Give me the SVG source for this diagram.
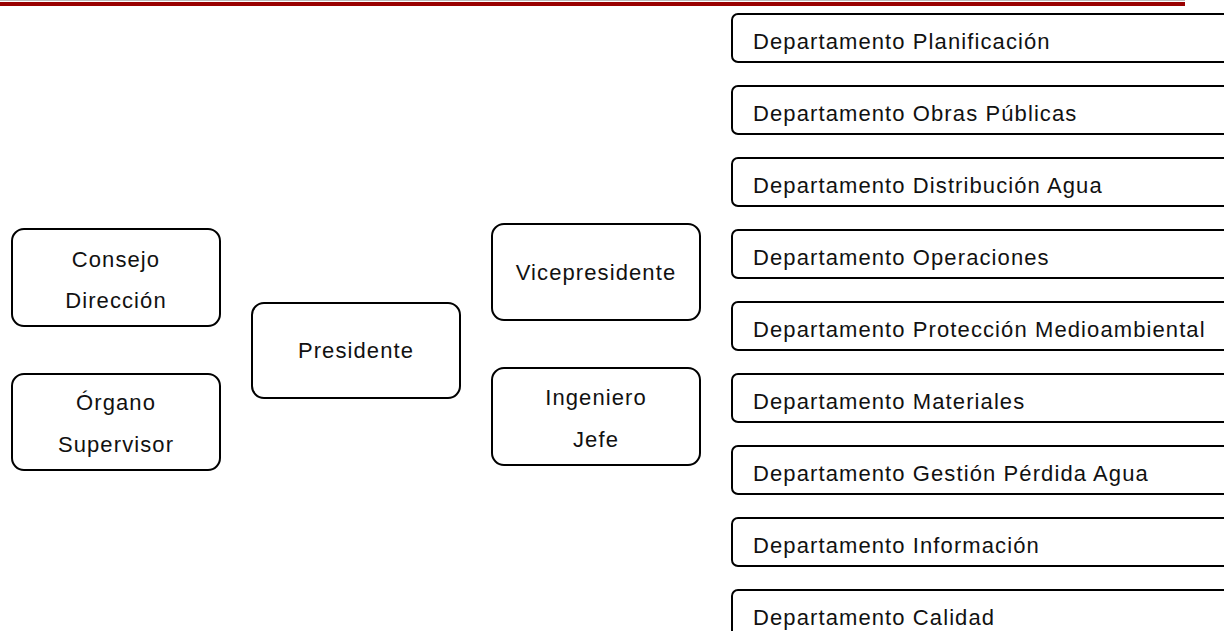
<svg xmlns="http://www.w3.org/2000/svg" width="1224" height="631" viewBox="0 0 1224 631">
  <style>
    .box { fill: #ffffff; stroke: #000000; stroke-width: 2; }
    .lbl { font-family: "Liberation Sans", Arial, Helvetica, sans-serif; font-size: 22px; letter-spacing: 1.1px; fill: #111111; }
    .mid { text-anchor: middle; }
  </style>

  <!-- header rule -->
  <g id="header">
    <line x1="0" y1="0.5" x2="1185" y2="0.5" stroke="#bbbbbb" stroke-width="1"/>
    <rect x="0" y="2" width="1185" height="4" fill="#990000"/>
  </g>

  <g id="connectors"></g>

  <!-- governing bodies -->
  <g id="consejo-direccion">
    <rect class="box" x="12" y="229" width="208" height="97" rx="12"/>
    <text class="lbl mid" x="116" y="267">Consejo</text>
    <text class="lbl mid" x="116" y="308">Dirección</text>
  </g>
  <g id="organo-supervisor">
    <rect class="box" x="12" y="374" width="208" height="96" rx="12"/>
    <text class="lbl mid" x="116" y="410">Órgano</text>
    <text class="lbl mid" x="116" y="452">Supervisor</text>
  </g>

  <g id="presidente">
    <rect class="box" x="252" y="303" width="208" height="95" rx="12"/>
    <text class="lbl mid" x="356" y="358">Presidente</text>
  </g>

  <g id="vicepresidente">
    <rect class="box" x="492" y="224" width="208" height="96" rx="12"/>
    <text class="lbl mid" x="596" y="280">Vicepresidente</text>
  </g>
  <g id="ingeniero-jefe">
    <rect class="box" x="492" y="368" width="208" height="97" rx="12"/>
    <text class="lbl mid" x="596" y="405">Ingeniero</text>
    <text class="lbl mid" x="596" y="447">Jefe</text>
  </g>

  <!-- departments (boxes run past the right edge) -->
  <g id="dep-planificacion">
    <rect class="box" x="732" y="14" width="600" height="48" rx="6"/>
    <text class="lbl" x="753" y="49">Departamento Planificación</text>
  </g>
  <g id="dep-obras-publicas">
    <rect class="box" x="732" y="86" width="600" height="48" rx="6"/>
    <text class="lbl" x="753" y="121">Departamento Obras Públicas</text>
  </g>
  <g id="dep-distribucion-agua">
    <rect class="box" x="732" y="158" width="600" height="48" rx="6"/>
    <text class="lbl" x="753" y="193">Departamento Distribución Agua</text>
  </g>
  <g id="dep-operaciones">
    <rect class="box" x="732" y="230" width="600" height="48" rx="6"/>
    <text class="lbl" x="753" y="265">Departamento Operaciones</text>
  </g>
  <g id="dep-proteccion-medioambiental">
    <rect class="box" x="732" y="302" width="600" height="48" rx="6"/>
    <text class="lbl" x="753" y="337">Departamento Protección Medioambiental</text>
  </g>
  <g id="dep-materiales">
    <rect class="box" x="732" y="374" width="600" height="48" rx="6"/>
    <text class="lbl" x="753" y="409">Departamento Materiales</text>
  </g>
  <g id="dep-gestion-perdida-agua">
    <rect class="box" x="732" y="446" width="600" height="48" rx="6"/>
    <text class="lbl" x="753" y="481">Departamento Gestión Pérdida Agua</text>
  </g>
  <g id="dep-informacion">
    <rect class="box" x="732" y="518" width="600" height="48" rx="6"/>
    <text class="lbl" x="753" y="553">Departamento Información</text>
  </g>
  <g id="dep-calidad">
    <rect class="box" x="732" y="590" width="600" height="48" rx="6"/>
    <text class="lbl" x="753" y="625">Departamento Calidad</text>
  </g>
</svg>
